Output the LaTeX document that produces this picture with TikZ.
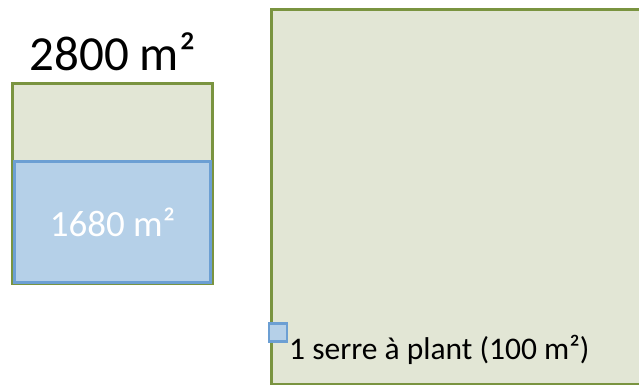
\documentclass[tikz,border=0pt]{standalone}
\usepackage{fontspec}
\setmainfont{Carlito}
\usetikzlibrary{positioning}

\definecolor{fieldfill}{HTML}{E2E6D5}
\definecolor{fielddraw}{HTML}{7A9440}
\definecolor{serrefill}{HTML}{B5D0E8}
\definecolor{serredraw}{HTML}{6C9FD3}

\begin{document}
\begin{tikzpicture}[x=1pt,y=-1pt,
    field/.style={draw=fielddraw,fill=fieldfill,line width=3pt,inner sep=0pt},
    serre/.style={draw=serredraw,fill=serrefill,line width=2.2pt,inner sep=0pt}]
    \useasboundingbox (0,0) rectangle (639,385);
    %fields
    \node[field,minimum width=200,minimum height=200] (small) at (112.5,183.5) {};
    \node[serre,minimum width=196,minimum height=121,anchor=south] (used) at ([yshift=1.5pt]small.south) {};
    \node[field,minimum width=400,minimum height=375,anchor=north west] (big) at (269.5,8) {};
    \node[serre,minimum width=18,minimum height=18] (plant) at (278,332.5) {};
    %labels
    \node[font=\fontsize{49}{49}\selectfont,inner sep=0pt] (total) at (112.5,52) {2800 m²};
    \node[font=\fontsize{37}{37}\selectfont,text=white,inner sep=0pt] (usedlabel) at (used.center) {1680 m²};
    \node[font=\fontsize{31.5}{31.5}\selectfont,inner sep=0pt,anchor=base west] (plantlabel) at (289,359) {1 serre à plant (100 m²)};
\end{tikzpicture}
\end{document}
